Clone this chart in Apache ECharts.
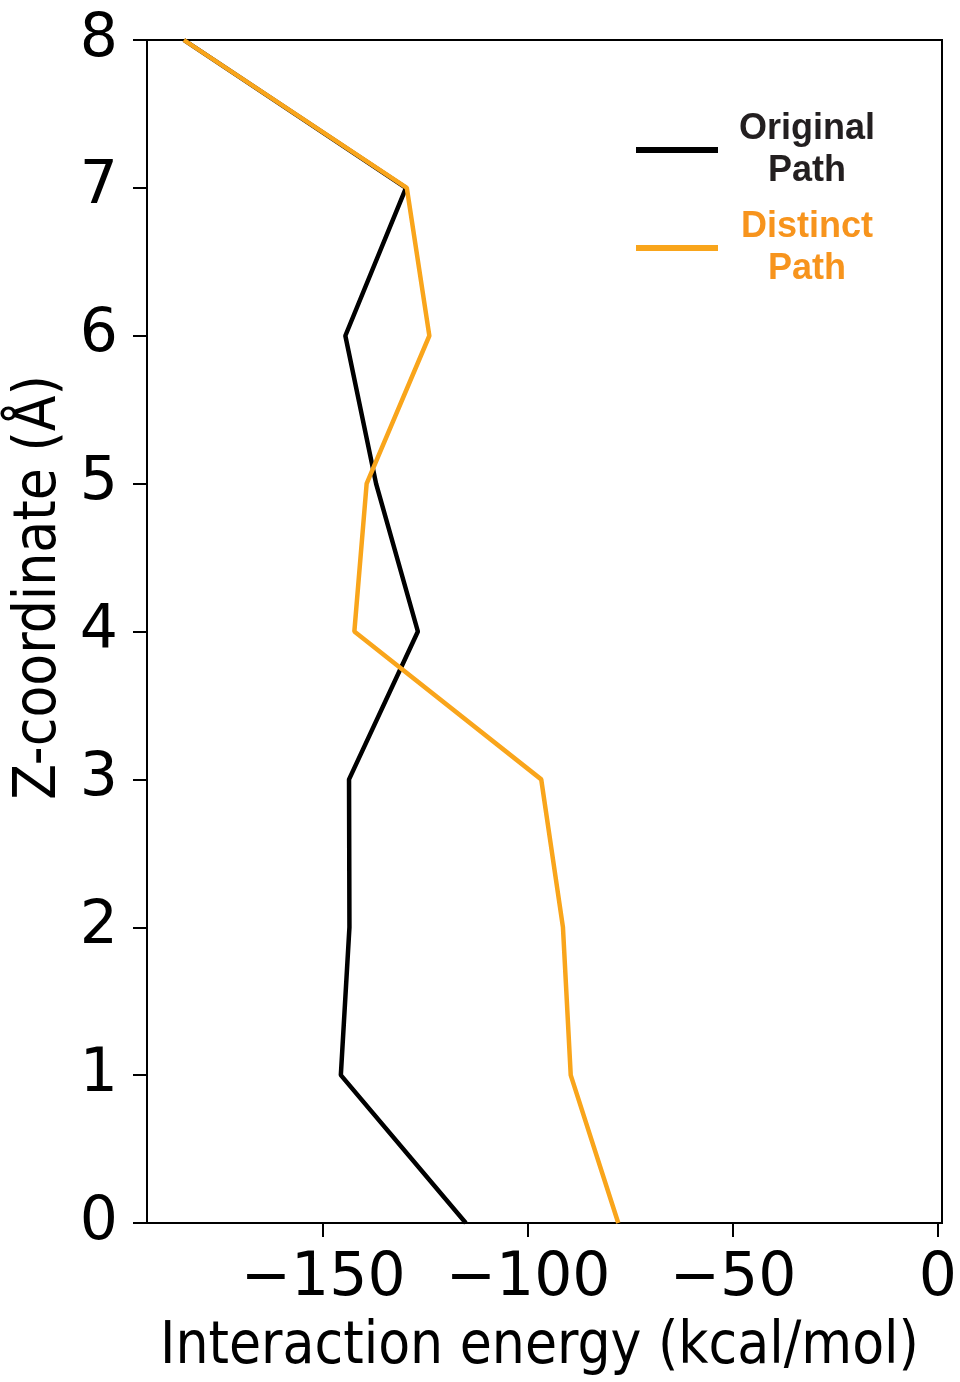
<!DOCTYPE html>
<html>
<head>
<meta charset="utf-8">
<script src="https://cdn.jsdelivr.net/npm/echarts@6/dist/echarts.min.js"></script>
<style>
  html, body { margin: 0; padding: 0; background: #fff; }
  #chart { width: 960px; height: 1382px; }
</style>
</head>
<body>
<div id="chart"></div>
<script>
  // z-coordinate (A) of each sample
  var zCoord = [0, 1, 2, 3, 4, 5, 6, 7, 8];
  // interaction energy (kcal/mol) along each path
  var originalPath = [-115.2, -145.7, -143.6, -143.7, -126.9, -137.1, -144.6, -129.8, -184];
  var distinctPath = [-78.0, -89.6, -91.5, -96.8, -142.4, -139.4, -124.1, -129.6, -184];
  var xTicks = [-150, -100, -50, 0];
  var yTicks = [0, 1, 2, 3, 4, 5, 6, 7, 8];

  function pairs(vals) {
    var out = [];
    for (var i = 0; i < vals.length; i++) out.push([vals[i], zCoord[i]]);
    return out;
  }

  var condensed = "'DejaVu Sans Condensed', 'Liberation Sans Narrow', 'DejaVu Sans', sans-serif";

  var chart = echarts.init(document.getElementById('chart'));
  var option = {
    animation: false,
    backgroundColor: '#fff',
    grid: {
      left: 147, right: 18, top: 40, bottom: 157,
      show: true, borderColor: '#000', borderWidth: 2, backgroundColor: 'transparent'
    },
    legend: {
      orient: 'vertical',
      left: 631, top: 106,
      icon: 'rect',
      itemWidth: 82, itemHeight: 6,
      itemGap: 20,
      data: ['Original Path', 'Distinct Path'],
      formatter: function (name) {
        var k = name === 'Original Path' ? 'k' : 'd';
        var parts = name.split(' ');
        return '{' + k + '|' + parts[0] + '}\n{' + k + '|' + parts[1] + '}';
      },
      textStyle: {
        rich: {
          k: { color: '#231F20', fontFamily: "'Liberation Sans', Arial, sans-serif", fontWeight: 'bold', fontSize: 36, lineHeight: 42, width: 168, align: 'center' },
          d: { color: '#F7941D', fontFamily: "'Liberation Sans', Arial, sans-serif", fontWeight: 'bold', fontSize: 36, lineHeight: 42, width: 168, align: 'center' }
        }
      }
    },
    xAxis: {
      type: 'value',
      min: -193, max: 1,
      name: 'Interaction energy (kcal/mol)',
      nameLocation: 'middle',
      nameGap: 96,
      nameTextStyle: { fontFamily: condensed, fontSize: 58, color: '#000', padding: [0, 10, 0, 0] },
      axisLine: { show: true, onZero: false, lineStyle: { color: '#000', width: 2 } },
      axisTick: { show: true, length: 14, customValues: xTicks, lineStyle: { color: '#000', width: 2 } },
      axisLabel: {
        customValues: xTicks,
        margin: 26,
        fontFamily: "'DejaVu Sans', sans-serif", fontSize: 60, color: '#000',
        formatter: function (v) { return v < 0 ? '\u2212' + Math.abs(v) : String(v); }
      },
      splitLine: { show: false }
    },
    yAxis: {
      type: 'value',
      min: 0, max: 8, interval: 1,
      name: 'Z-coordinate (\u00C5)',
      nameLocation: 'middle',
      nameGap: 70,
      nameTextStyle: { fontFamily: condensed, fontSize: 58, color: '#000', padding: [0, 0, 0, 88] },
      axisLine: { show: true, onZero: false, lineStyle: { color: '#000', width: 2 } },
      axisTick: { show: true, length: 14, customValues: yTicks, lineStyle: { color: '#000', width: 2 } },
      axisLabel: {
        customValues: yTicks,
        margin: 29,
        fontFamily: "'DejaVu Sans', sans-serif", fontSize: 60, color: '#000'
      },
      splitLine: { show: false }
    },
    series: [
      {
        name: 'Original Path',
        type: 'line',
        data: pairs(originalPath),
        showSymbol: false,
        color: '#000000',
        lineStyle: { color: '#000000', width: 4.5 },
        z: 2
      },
      {
        name: 'Distinct Path',
        type: 'line',
        data: pairs(distinctPath),
        showSymbol: false,
        color: '#F9A51B',
        lineStyle: { color: '#F9A51B', width: 4.5 },
        z: 3
      }
    ]
  };
  chart.setOption(option);
</script>
</body>
</html>
